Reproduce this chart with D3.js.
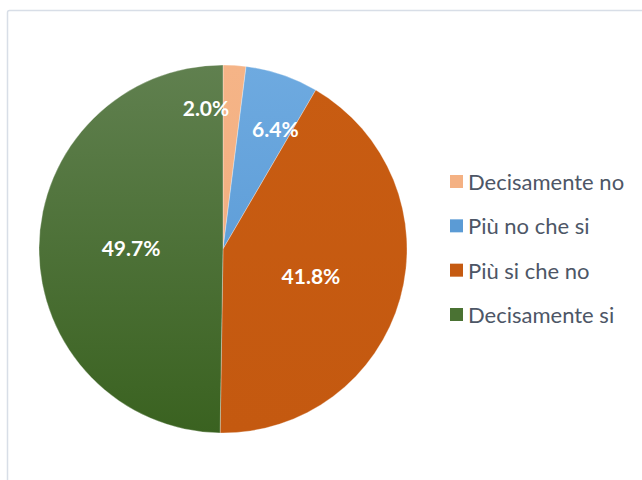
<!DOCTYPE html>
<html><head><meta charset="utf-8">
<script src="https://cdn.jsdelivr.net/npm/d3@7"></script>
<style>html,body{margin:0;padding:0;background:#fff;}</style>
</head><body><svg id="chart" width="642" height="480"></svg>
<script>
const categories = ["Decisamente no", "Più no che si", "Più si che no", "Decisamente si"];
const values = [2.0, 6.4, 41.8, 49.7];
const labels = ["2.0%", "6.4%", "41.8%", "49.7%"];

const colorsTop = ["#f5b487", "#6eaae0", "#c85c12", "#60804f"];
const colorsBottom = ["#f0ab7b", "#5193d1", "#c45910", "#3a6220"];
const legendColors = ["#f4b183", "#5b9bd5", "#c55a11", "#4a7233"];
// label placement: radius factor and angle shift (deg) for each slice
const labelPlace = [{r: 0.77, a: -10.5}, {r: 0.71, a: 4.9}, {r: 0.5, a: 1.5}, {r: 0.5, a: 0}];

const svg = d3.select("#chart");
const W = 642, H = 480;
const font = "Lato, 'Open Sans', sans-serif";

svg.append("rect").attr("x", 7.5).attr("y", 10.5).attr("width", 700).attr("height", 500)
  .attr("rx", 2).attr("fill", "#fff").attr("stroke", "#d8dee7").attr("stroke-width", 1.5);

const cx = 223, cy = 249, R = 184;
const defs = svg.append("defs");
categories.forEach((c, i) => {
  const g = defs.append("linearGradient").attr("id", "g" + i)
    .attr("gradientUnits", "userSpaceOnUse")
    .attr("x1", 0).attr("y1", -R).attr("x2", 0).attr("y2", R);
  g.append("stop").attr("offset", "0%").attr("stop-color", colorsTop[i]);
  g.append("stop").attr("offset", "100%").attr("stop-color", colorsBottom[i]);
});

const pie = d3.pie().sort(null).value(d => d)(values);
const arc = d3.arc().innerRadius(0).outerRadius(R);
const gPie = svg.append("g").attr("transform", `translate(${cx},${cy})`);
gPie.selectAll("path").data(pie).enter().append("path")
  .attr("d", arc).attr("fill", (d, i) => `url(#g${i})`)
  .attr("stroke", "#ffffff").attr("stroke-width", 0.5).attr("stroke-opacity", 0.6);

gPie.selectAll("text").data(pie).enter().append("text")
  .attr("transform", (d, i) => {
    const a = (d.startAngle + d.endAngle) / 2 + labelPlace[i].a * Math.PI / 180;
    const rr = R * labelPlace[i].r;
    return `translate(${rr * Math.sin(a)},${-rr * Math.cos(a)})`;
  })
  .attr("text-anchor", "middle").attr("dy", "0.36em")
  .attr("font-family", font).attr("font-weight", "bold").attr("font-size", 21)
  .attr("fill", "#ffffff")
  .text((d, i) => labels[i]);

const leg = svg.append("g");
const legY = d3.scalePoint().domain(categories).range([182, 315]);
categories.forEach((c, i) => {
  const y = legY(c);
  leg.append("rect").attr("x", 450).attr("y", y - 7).attr("width", 13).attr("height", 13)
    .attr("fill", legendColors[i]);
  leg.append("text").attr("x", 468).attr("y", y).attr("dy", "0.36em")
    .attr("font-family", font).attr("font-size", 22).attr("fill", "#4d5666")
    .text(c);
});
</script></body></html>
